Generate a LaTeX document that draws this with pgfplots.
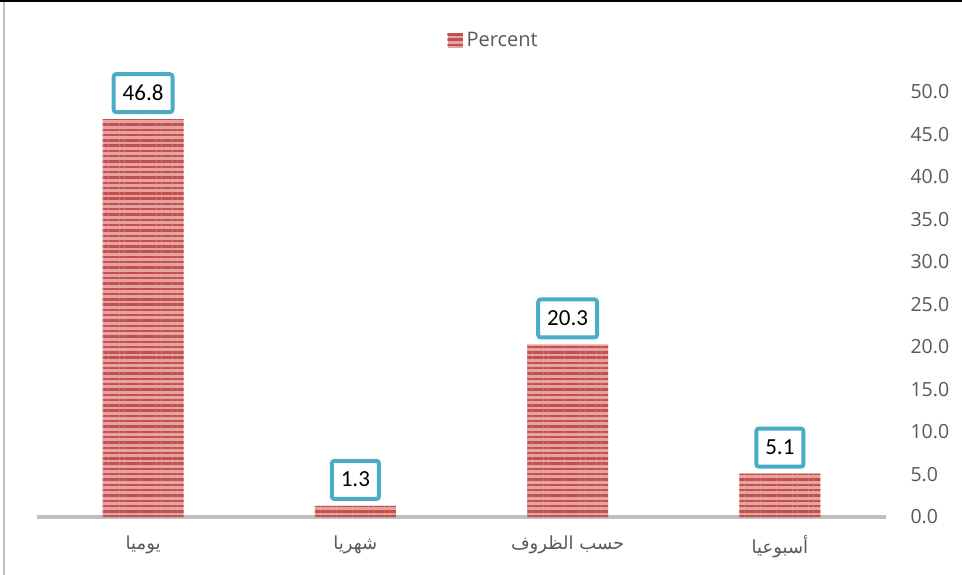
\documentclass[border=0pt]{standalone}
\usepackage{pgfplots}
\pgfplotsset{compat=1.18}
\usepackage{fontspec}
\setmainfont{Carlito}
\newfontfamily\osans{Open Sans}
\newfontfamily\arabicfont[Script=Arabic]{DejaVu Sans}
\TeXXeTstate=1
\usetikzlibrary{patterns.meta}
\definecolor{txt}{HTML}{595959}
\definecolor{barline}{HTML}{C0504D}
\definecolor{barfill}{HTML}{E6A3A1}
\definecolor{boxc}{HTML}{4BACC6}
\definecolor{axc}{HTML}{BFBFBF}
\begin{document}
\begin{tikzpicture}
\useasboundingbox (0,0) rectangle (962bp,575bp);
\fill[white] (0,0) rectangle (962bp,575bp);
\draw[black, line width=1.5bp] (0,574bp) -- (962bp,574bp);
\draw[axc, line width=1.5bp] (4bp,0) -- (4bp,573bp);
\begin{axis}[
  at={(37bp,58bp)}, anchor=south west,
  scale only axis, width=849bp, height=425bp,
  ybar, bar width=81bp,
  xmin=-0.5, xmax=3.5, ymin=0, ymax=50,
  axis x line=bottom, axis y line=right,
  x axis line style={draw=axc, line width=3bp, -},
  y axis line style={draw=none},
  major tick length=0,
  xtick={0,1,2,3},
  xticklabels={{\arabicfont\beginR يوميا\endR},{\arabicfont\beginR شهريا\endR},{\arabicfont\beginR حسب الظروف\endR},{\arabicfont\beginR أسبوعيا\endR}},
  x tick label style={font=\fontsize{18bp}{22bp}\selectfont, text=txt, yshift=-15bp},
  ytick distance=5,
  /pgf/number format/assume math mode=true,
  y tick label style={font=\osans\fontsize{19.5bp}{23bp}\selectfont, text=txt, anchor=west, xshift=21bp, /pgf/number format/fixed, /pgf/number format/fixed zerofill, /pgf/number format/precision=1},
  nodes near coords={\pgfmathprintnumber[fixed,fixed zerofill,precision=1]{\pgfplotspointmeta}},
  nodes near coords style={font=\fontsize{23bp}{26bp}\selectfont, text=black, draw=boxc, line width=4bp, fill=white, rounded corners=2.5bp, inner xsep=9bp, inner ysep=10bp, text height=16bp, text depth=2bp, anchor=south, yshift=5bp},
  legend style={at={(0.538,1.122)}, anchor=center, draw=none, fill=none, font=\osans\fontsize{20bp}{23bp}\selectfont, text=txt},
  legend image code/.code={\fill[barfill] (0bp,-7.5bp) rectangle (15bp,7.5bp); \fill[pattern={Lines[angle=0,distance=5bp,line width=2.2bp]}, pattern color=barline] (0bp,-7.5bp) rectangle (15bp,7.5bp);},
  legend cell align=left,
  clip=false,
]
\addplot[fill=barfill, draw=none, postaction={pattern={Lines[angle=0,distance=5.3bp,line width=2.4bp]}, pattern color=barline}] coordinates {(0,46.8) (1,1.3) (2,20.3) (3,5.1)};
\addlegendentry{\hspace{2bp}Percent}
\end{axis}
\end{tikzpicture}
\end{document}
